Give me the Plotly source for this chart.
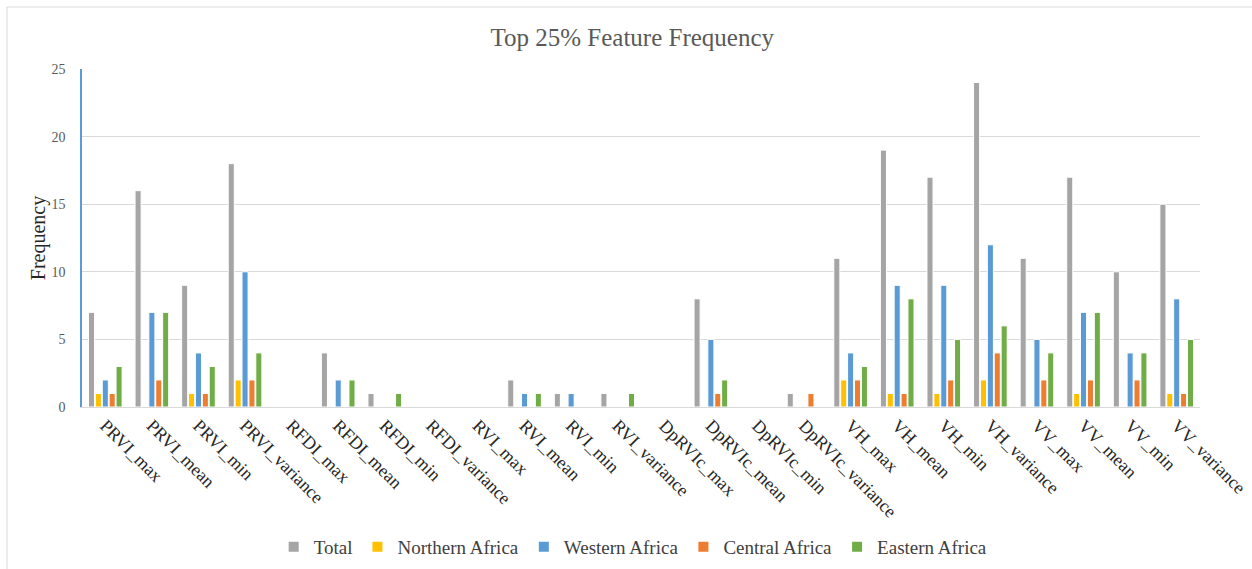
import plotly.graph_objects as go

# Feature names (x categories)
features = [
    "PRVI_max", "PRVI_mean", "PRVI_min", "PRVI_variance",
    "RFDI_max", "RFDI_mean", "RFDI_min", "RFDI_variance",
    "RVI_max", "RVI_mean", "RVI_min", "RVI_variance",
    "DpRVIc_max", "DpRVIc_mean", "DpRVIc_min", "DpRVIc_variance",
    "VH_max", "VH_mean", "VH_min", "VH_variance",
    "VV_max", "VV_mean", "VV_min", "VV_variance",
]

# Frequency counts per region
total = [7, 16, 9, 18, 0, 4, 1, 0, 0, 2, 1, 1, 0, 8, 0, 1, 11, 19, 17, 24, 11, 17, 10, 15]
northern = [1, 0, 1, 2, 0, 0, 0, 0, 0, 0, 0, 0, 0, 0, 0, 0, 2, 1, 1, 2, 0, 1, 0, 1]
western = [2, 7, 4, 10, 0, 2, 0, 0, 0, 1, 1, 0, 0, 5, 0, 0, 4, 9, 9, 12, 5, 7, 4, 8]
central = [1, 2, 1, 2, 0, 0, 0, 0, 0, 0, 0, 0, 0, 1, 0, 1, 2, 1, 2, 4, 2, 2, 2, 1]
eastern = [3, 7, 3, 4, 0, 2, 1, 0, 0, 1, 0, 1, 0, 2, 0, 0, 3, 8, 5, 6, 4, 7, 4, 5]

y_ticks = [0, 5, 10, 15, 20, 25]

series = [
    ("Total", total, "#a5a5a5"),
    ("Northern Africa", northern, "#ffc000"),
    ("Western Africa", western, "#5b9bd5"),
    ("Central Africa", central, "#ed7d31"),
    ("Eastern Africa", eastern, "#70ad47"),
]

FONT = "Liberation Serif, Times New Roman, serif"

fig = go.Figure()
for name, vals, color in series:
    fig.add_trace(go.Bar(
        x=features, y=vals, name=name,
        marker=dict(color=color, line=dict(color="white", width=1)),
    ))

# Outer chart frame
fig.add_shape(type="rect", xref="paper", yref="paper",
              x0=(7 - 82) / 1118, x1=(1270 - 82) / 1118,
              y0=(407 - 590) / 338, y1=1 + (69 - 7) / 338,
              line=dict(color="#d9d9d9", width=1), layer="below")

fig.update_layout(
    width=1252, height=569,
    margin=dict(l=82, r=52, t=69, b=162, autoexpand=False),
    paper_bgcolor="white", plot_bgcolor="white",
    font=dict(family=FONT, color="#404040"),
    title=dict(text="Top 25% Feature Frequency", x=0.505, xanchor="center",
               y=0.935, yanchor="middle",
               font=dict(family=FONT, size=25, color="#595959")),
    barmode="group", bargap=0.26, bargroupgap=0.12,
    showlegend=True,
    legend=dict(orientation="h", x=0.493, xanchor="center", y=-0.414, yanchor="middle",
                font=dict(family=FONT, size=19, color="#404040"),
                itemsizing="constant", traceorder="normal"),
    xaxis=dict(
        type="category", tickangle=45, automargin=False,
        tickfont=dict(family=FONT, size=18, color="#262626"),
        showline=True, linecolor="#d9d9d9", linewidth=1,
        showgrid=False, ticks="", range=[-0.5, 23.5],
    ),
    yaxis=dict(
        range=[0, 25], tickvals=y_ticks, automargin=False,
        tickfont=dict(family=FONT, size=14, color="#595959"),
        showgrid=True, gridcolor="#d9d9d9", gridwidth=1,
        showline=True, linecolor="#5b9bd5", linewidth=1.5,
        zeroline=False, ticks="", ticklabelstandoff=12,
        title=dict(text="Frequency", font=dict(family=FONT, size=20, color="#262626"),
                   standoff=0),
    ),
)

fig.write_html("out.html")
